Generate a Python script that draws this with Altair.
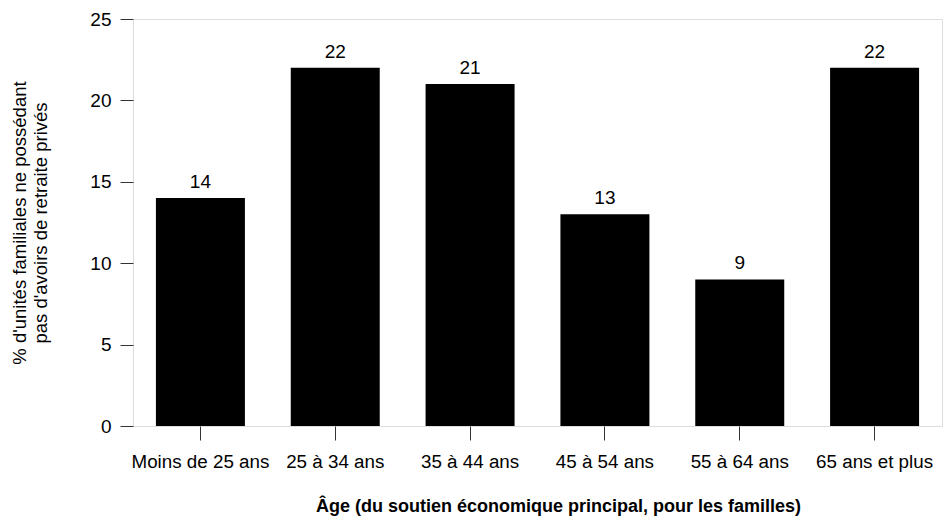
import altair as alt
import pandas as pd

categories = ["Moins de 25 ans", "25 à 34 ans", "35 à 44 ans", "45 à 54 ans", "55 à 64 ans", "65 ans et plus"]
values = [14, 22, 21, 13, 9, 22]
y_ticks = [0, 5, 10, 15, 20, 25]

df = pd.DataFrame({"cat": categories, "val": values})
FONT = "Liberation Sans"

x = alt.X("cat:N", sort=categories, scale=alt.Scale(paddingInner=0.34, paddingOuter=0.17),
          axis=alt.Axis(title="Âge (du soutien économique principal, pour les familles)",
                        labelAngle=0, labelFontSize=18.8, labelPadding=12, tickSize=14,
                        tickColor="#333", domain=False, titleFontSize=18, titleFontWeight="bold",
                        titlePadding=27, titleX=425, labelColor="black", titleColor="black"))
y = alt.Y("val:Q", scale=alt.Scale(domain=[0, 25], nice=False),
          axis=alt.Axis(title=["% d'unités familiales ne possédant", "pas d'avoirs de retraite privés"],
                        values=y_ticks, labelFontSize=19, labelPadding=9, tickSize=13,
                        tickColor="#333", domain=False, grid=False, titleFontSize=18.5,
                        titleFontWeight="normal", titleLineHeight=21, titlePadding=39,
                        labelColor="black", titleColor="black"))

bars = alt.Chart(df).mark_bar(color="black").encode(x=x, y=y)
labels = alt.Chart(df).mark_text(baseline="bottom", dy=-6, fontSize=19, font=FONT, color="black").encode(
    x=alt.X("cat:N", sort=categories), y="val:Q", text="val:Q")

chart = (bars + labels).properties(
    width=809, height=407,
    autosize=alt.AutoSizeParams(type="none"),
    padding={"left": 133, "top": 19, "right": 2, "bottom": 91},
).configure_view(stroke="black", strokeWidth=1).configure(font=FONT)

chart.save("out.html", embed_options={"renderer": "svg", "actions": False})
